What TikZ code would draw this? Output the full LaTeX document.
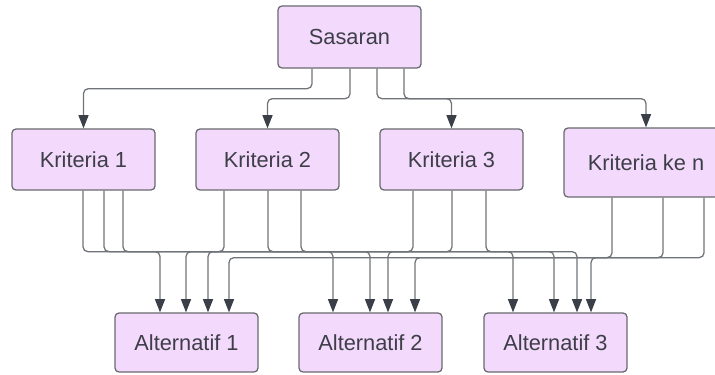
\documentclass[tikz,border=0pt]{standalone}
\usepackage{fontspec}
\setmainfont{Liberation Sans}
\usetikzlibrary{arrows.meta, calc}
\definecolor{boxfill}{RGB}{243,218,252}
\definecolor{boxline}{RGB}{105,105,112}
\definecolor{linkgray}{RGB}{112,116,122}
\definecolor{tipdark}{RGB}{58,63,72}
\definecolor{textgray}{RGB}{62,62,72}

\begin{document}
\begin{tikzpicture}[
    x=0.025cm, y=-0.025cm,
    box/.style={rectangle, rounded corners=0.1cm, draw=boxline, fill=boxfill, line width=0.9pt, minimum width=3.575cm, minimum height=1.525cm, inner sep=0pt, text=textgray, font=\fontsize{15.5}{18}\selectfont},
    widebox/.style={box, minimum width=4.1cm, minimum height=1.725cm},
    link/.style={draw=linkgray, line width=0.9pt, rounded corners=0.12cm, -{Triangle[length=0.33cm, width=0.25cm, color=tipdark]}}
]
    \clip (0,0) rectangle (715,374);

    % Nodes
    \node[box, minimum height=1.55cm] (sas) at (349.5,37) {Sasaran};
    \node[box] (k1) at (83.5,159.5) {Kriteria 1};
    \node[box] (k2) at (267.5,159.5) {Kriteria 2};
    \node[box] (k3) at (451.5,159.5) {Kriteria 3};
    \node[widebox] (kn) at (646,162.5) {Kriteria ke n};
    \node[box, minimum height=1.475cm] (a1) at (186.5,342.5) {Alternatif 1};
    \node[box, minimum height=1.475cm] (a2) at (370.5,342.5) {Alternatif 2};
    \node[box, minimum height=1.475cm] (a3) at (555.5,342.5) {Alternatif 3};

    % Goal to criteria
    \draw[link] ($(sas.south)+(-37.5,0)$) -- ++(0,20) -| (k1.north);
    \draw[link] ($(sas.south)+(0.5,0)$) -- ++(0,30) -| (k2.north);
    \draw[link] ($(sas.south)+(27.5,0)$) -- ++(0,30) -| (k3.north);
    \draw[link] ($(sas.south)+(54.5,0)$) -- ++(0,30) -| (kn.north);

    % Criteria to alternatives
    \draw[link] ($(k1.south)+(-0.5,0)$) -- ++(0,61) -| ($(a1.north)+(-26.5,0)$);
    \draw[link] ($(k1.south)+(20.5,0)$) -- ++(0,61) -| ($(a2.north)+(-37.5,0)$);
    \draw[link] ($(k1.south)+(39.5,0)$) -- ++(0,61) -| ($(a3.north)+(-42.5,0)$);

    \draw[link] ($(k2.south)+(-43.5,0)$) -- ++(0,61) -| ($(a1.north)+(-0.5,0)$);
    \draw[link] ($(k2.south)+(0.5,0)$) -- ++(0,61) -| ($(a2.north)+(-0.5,0)$);
    \draw[link] ($(k2.south)+(33.5,0)$) -- ++(0,61) -| ($(a3.north)+(-1.5,0)$);

    \draw[link] ($(k3.south)+(-38.5,0)$) -- ++(0,61) -| ($(a1.north)+(21.5,0)$);
    \draw[link] ($(k3.south)+(0.5,0)$) -- ++(0,61) -| ($(a2.north)+(17.5,0)$);
    \draw[link] ($(k3.south)+(34.5,0)$) -- ++(0,61) -| ($(a3.north)+(21.5,0)$);

    \draw[link] ($(kn.south)+(-34,0)$) -- ++(0,60) -| ($(a3.north)+(35.5,0)$);
    \draw[link] ($(kn.south)+(17,0)$) -- ++(0,60) -| ($(a2.north)+(44.5,0)$);
    \draw[link] ($(kn.south)+(58,0)$) -- ++(0,60) -| ($(a1.north)+(42.5,0)$);
\end{tikzpicture}
\end{document}
